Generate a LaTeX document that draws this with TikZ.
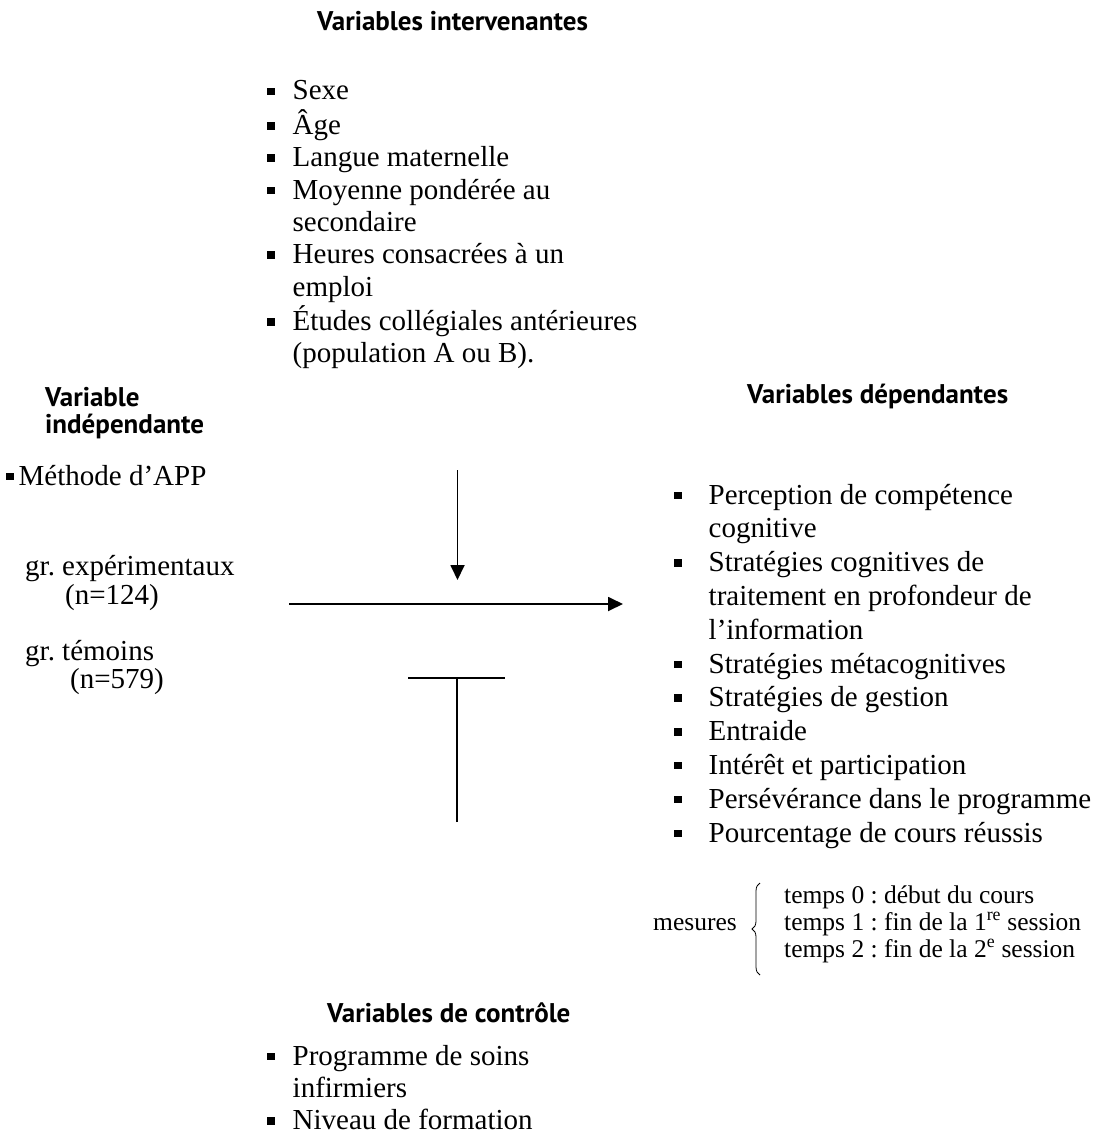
\documentclass[tikz,border=0pt]{standalone}
\usepackage{fontspec}
\setmainfont{Liberation Serif}
\newfontfamily\titrefont{PT Sans}
\usepackage{tikz}
\usetikzlibrary{
  arrows.meta,
  decorations.pathreplacing,
}
\frenchspacing
\newcommand{\puce}{\rule[5pt]{7.5pt}{7.5pt}}
\tikzstyle{titre}=[inner sep=0pt, anchor=base west, font=\titrefont\bfseries\fontsize{27}{27}\selectfont]
\tikzstyle{liste}=[inner sep=0pt, anchor=base west, font=\fontsize{29}{32.3}\selectfont]
\tikzstyle{listedroite}=[liste, font=\fontsize{29}{33.8}\selectfont]
\tikzstyle{petit}=[inner sep=0pt, anchor=base west, font=\fontsize{25.5}{27}\selectfont]
\tikzstyle{fleche}=[line width=1.8pt, -{Triangle[length=15pt,width=14pt]}]
\tikzstyle{trait}=[line width=1.8pt]

\begin{document}
\begin{tikzpicture}[x=1pt, y=-1pt]
	\useasboundingbox (0,0) rectangle (1102,1145);
	% variables intervenantes
	\node (titreinter) [titre] at (317,31) {Variables intervenantes};
	\path (titreinter.base west) + (-50,69) node (listeinter) [liste] {\begin{tabular}[t]{@{}l@{\hspace{18pt}}l@{}}
		\puce & Sexe\\
		\puce & Âge\\
		\puce & Langue maternelle\\
		\puce & Moyenne pondérée au\\
		      & secondaire\\
		\puce & Heures consacrées à un\\
		      & emploi\\
		\puce & Études collégiales antérieures\\
		      & (population A ou B).
	\end{tabular}};
	% variable independante
	\node (titreindep) [titre] at (45,406) {\begin{tabular}[t]{@{}l@{}}Variable\\indépendante\end{tabular}};
	\path (titreindep.base west) + (-39,79) node (methode) [liste] {\puce\hspace{5pt}Méthode d’APP};
	\path (titreindep.base west) + (-20,169) node (grexp) [liste] {gr. expérimentaux};
	\path (grexp.base west) + (40,29) node (nexp) [liste] {(n=124)};
	\path (grexp.base west) + (0,85) node (grtem) [liste] {gr. témoins};
	\path (grtem.base west) + (45,28) node (ntem) [liste] {(n=579)};
	% variables dependantes
	\node (titredep) [titre] at (747,403) {Variables dépendantes};
	\path (titredep.base west) + (-73,101) node (listedep) [listedroite] {\begin{tabular}[t]{@{}l@{\hspace{27pt}}l@{}}
		\puce & Perception de compétence\\
		      & cognitive\\
		\puce & Stratégies cognitives de\\
		      & traitement en profondeur de\\
		      & l’information\\
		\puce & Stratégies métacognitives\\
		\puce & Stratégies de gestion\\
		\puce & Entraide\\
		\puce & Intérêt et participation\\
		\puce & Persévérance dans le programme\\
		\puce & Pourcentage de cours réussis
	\end{tabular}};
	\path (listedep.base west) + (-21,426) node (mesures) [petit] {mesures};
	\path (listedep.base west) + (110,399) node (temps) [petit] {\begin{tabular}[t]{@{}l@{}}
		temps 0 : début du cours\\
		temps 1 : fin de la 1\textsuperscript{re} session\\
		temps 2 : fin de la 2\textsuperscript{e} session
	\end{tabular}};
	\draw [line width=0.8pt, decorate, decoration={brace, amplitude=8pt}] ([shift={(-24,72)}]temps.base west) -- ([shift={(-24,-20)}]temps.base west);
	% variables de controle
	\node (titrecontrole) [titre] at (327,1022) {Variables de contrôle};
	\path (titrecontrole.base west) + (-60,43) node (listecontrole) [liste] {\begin{tabular}[t]{@{}l@{\hspace{18pt}}l@{}}
		\puce & Programme de soins\\
		      & infirmiers\\
		\puce & Niveau de formation
	\end{tabular}};
	% fleches
	\coordinate (inter) at (457.5,470);
	\coordinate (croix) at (457.5,580);
	\coordinate (depart) at (289,604);
	\coordinate (arrivee) at (623,604);
	\coordinate (barregauche) at (408,678);
	\coordinate (barredroite) at (505,678);
	\coordinate (tete) at (457,678);
	\coordinate (pied) at (457,822);
	\draw [fleche] (inter) -- (croix);
	\draw [fleche] (depart) -- (arrivee);
	\draw [trait] (barregauche) -- (barredroite);
	\draw [trait] (pied) -- (tete);
\end{tikzpicture}
\end{document}
